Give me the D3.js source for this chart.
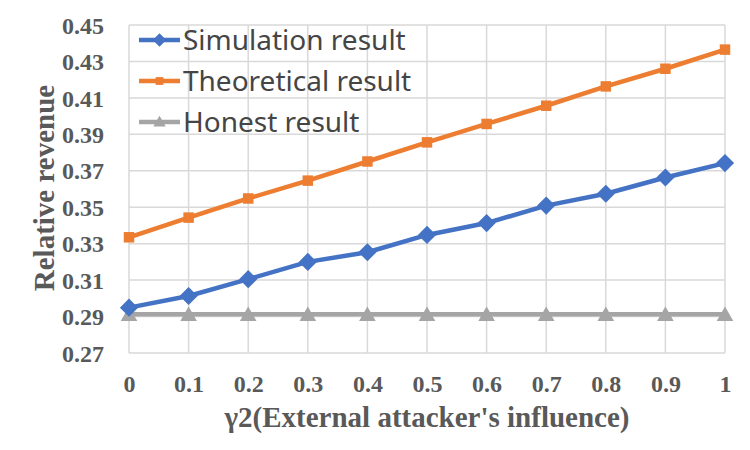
<!DOCTYPE html>
<html>
<head>
<meta charset="utf-8">
<script src="https://cdn.jsdelivr.net/npm/d3@7"></script>
<style>
  body { margin: 0; background: #fff; }
  .tick text { font-family: "Liberation Serif", "Times New Roman", serif; font-weight: bold; font-size: 24px; fill: #595959; }
  .title { font-family: "Liberation Serif", "Times New Roman", serif; font-weight: bold; font-size: 29px; fill: #595959; }
  .legend text { font-family: "Noto Sans", "Open Sans", sans-serif; font-size: 28px; fill: #454545; }
</style>
</head>
<body>
<svg id="chart" width="750" height="450"></svg>
<script>
// x values (gamma2) and the three series
const gammas = [0, 0.1, 0.2, 0.3, 0.4, 0.5, 0.6, 0.7, 0.8, 0.9, 1];
const simulation = [0.2949, 0.3013, 0.3105, 0.3200, 0.3253, 0.3348, 0.3413, 0.3509, 0.3574, 0.3663, 0.3742];
const theoretical = [0.3335, 0.3443, 0.3548, 0.3646, 0.3751, 0.3856, 0.3957, 0.4057, 0.4163, 0.4260, 0.4365];
const honest = [0.2913, 0.2913, 0.2913, 0.2913, 0.2913, 0.2913, 0.2913, 0.2913, 0.2913, 0.2913, 0.2913];
const yTicks = [0.27, 0.29, 0.31, 0.33, 0.35, 0.37, 0.39, 0.41, 0.43, 0.45];
const xTicks = gammas;
const seriesNames = ["Simulation result", "Theoretical result", "Honest result"];

const svg = d3.select("#chart");
const x = d3.scaleLinear().domain([0, 1]).range([129, 725]);
const y = d3.scaleLinear().domain([0.27, 0.45]).range([353, 25]);

// grid
const grid = svg.append("g").attr("stroke", "#d9d9d9").attr("stroke-width", 1.5);
grid.selectAll("line.h").data(yTicks).join("line").attr("class", "h")
    .attr("x1", x(0)).attr("x2", x(1)).attr("y1", d => y(d)).attr("y2", d => y(d));
grid.selectAll("line.v").data(xTicks).join("line").attr("class", "v")
    .attr("x1", d => x(d)).attr("x2", d => x(d)).attr("y1", y(0.27)).attr("y2", y(0.45));

// axes (labels only)
const yAxis = svg.append("g").attr("transform", "translate(" + (x(0) - 22) + ",0)")
    .call(d3.axisLeft(y).tickValues(yTicks).tickSize(0).tickFormat(d3.format(".2f")));
yAxis.select(".domain").remove();
yAxis.selectAll("text").attr("dy", "0.34em");

const xAxis = svg.append("g").attr("transform", "translate(0," + (y(0.27) + 19) + ")")
    .call(d3.axisBottom(x).tickValues(xTicks).tickSize(0).tickFormat(d => d3.format("")(d)));
xAxis.select(".domain").remove();
xAxis.selectAll("text").attr("dy", "0.71em");

svg.append("text").attr("class", "title").attr("text-anchor", "middle")
    .attr("x", (x(0) + x(1)) / 2).attr("y", 427).text("γ2(External attacker's influence)");
svg.append("text").attr("class", "title").attr("text-anchor", "middle")
    .attr("transform", "translate(54,188) rotate(-90)").text("Relative revenue");

// series
const series = [
    {name: seriesNames[0], values: simulation, color: "#4472C4", sym: d3.symbolSquare, size: 165, rot: 45, dy: 0},
    {name: seriesNames[1], values: theoretical, color: "#ED7D31", sym: d3.symbolSquare, size: 110, rot: 0, dy: 0},
    {name: seriesNames[2], values: honest, color: "#A5A5A5", sym: d3.symbolTriangle, size: 120, rot: 0, dy: 2}
];
const line = d3.line().x((d, i) => x(gammas[i])).y(d => y(d));

// draw honest first so the others sit on top
[2, 1, 0].forEach(k => {
    const s = series[k];
    svg.append("path").attr("d", line(s.values)).attr("fill", "none")
        .attr("stroke", s.color).attr("stroke-width", 4.5).attr("stroke-linejoin", "round");
    svg.append("g").selectAll("path").data(s.values).join("path")
        .attr("d", d3.symbol().type(s.sym).size(s.size))
        .attr("transform", (d, i) => "translate(" + x(gammas[i]) + "," + (y(d) + s.dy) + ") rotate(" + s.rot + ")")
        .attr("fill", s.color);
});

// legend
const legend = svg.append("g").attr("class", "legend");
series.forEach((s, i) => {
    const ly = 40 + i * 41;
    legend.append("line").attr("x1", 139).attr("x2", 180).attr("y1", ly).attr("y2", ly)
        .attr("stroke", s.color).attr("stroke-width", 4.5);
    legend.append("path").attr("d", d3.symbol().type(s.sym).size(s.size * 0.55))
        .attr("transform", "translate(159.5," + (ly + s.dy / 2) + ") rotate(" + s.rot + ")").attr("fill", s.color);
    legend.append("text").attr("x", 183).attr("y", ly).attr("dy", "0.36em").text(s.name);
});
</script>
</body>
</html>
